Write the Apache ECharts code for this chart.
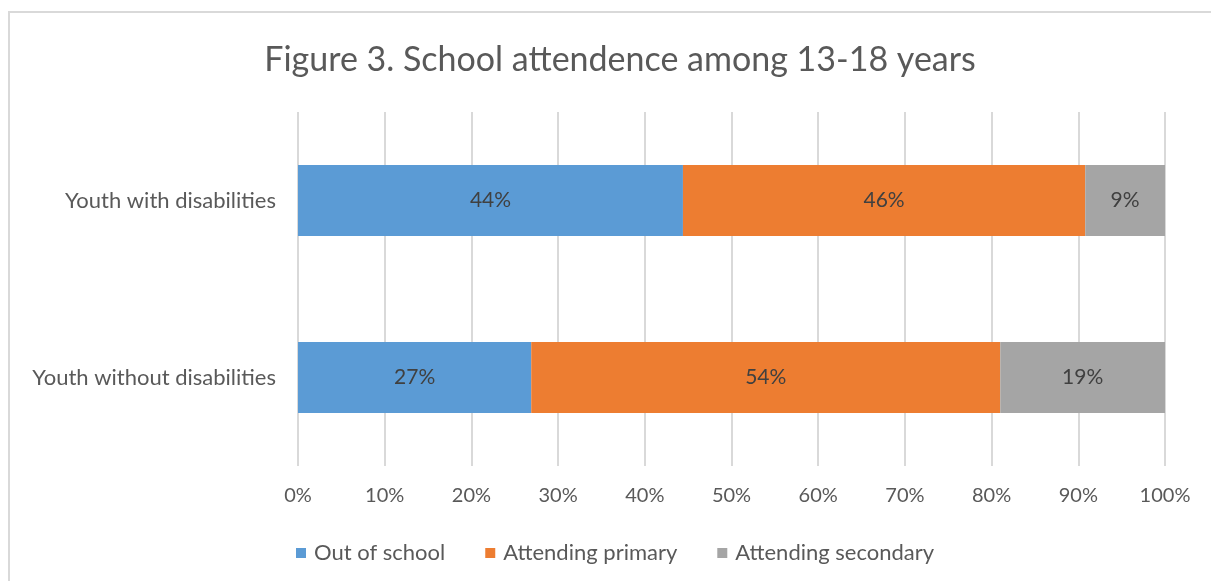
<!DOCTYPE html>
<html>
<head>
<meta charset="utf-8">
<script src="https://cdn.jsdelivr.net/npm/echarts@6/dist/echarts.min.js"></script>
<style>
html,body{margin:0;padding:0;background:#fff;}
#frame{position:absolute;left:8px;top:11px;width:1203px;height:570px;border-left:2px solid #d9d9d9;border-top:2px solid #d9d9d9;box-sizing:border-box;}
#chart{position:absolute;left:0;top:0;width:1211px;height:581px;}
</style>
</head>
<body>
<div id="frame"></div>
<div id="chart"></div>
<script>
var categories = ["Youth with disabilities", "Youth without disabilities"];
var outOfSchool = [44.4, 26.9];
var attendingPrimary = [46.4, 54.1];
var attendingSecondary = [9.2, 19.0];
var seriesNames = ["Out of school", "Attending primary", "Attending secondary"];
var seriesColors = ["#5B9BD5", "#ED7D31", "#A5A5A5"];
var xTicks = [0, 10, 20, 30, 40, 50, 60, 70, 80, 90, 100];

var FONT = "Lato, 'Open Sans', sans-serif";
var chart = echarts.init(document.getElementById('chart'), null, {renderer: 'canvas'});
var dataSets = [outOfSchool, attendingPrimary, attendingSecondary];
var series = dataSets.map(function (d, i) {
  return {
    name: seriesNames[i],
    type: 'bar',
    stack: 'total',
    barCategoryGap: '60%',
    data: d,
    itemStyle: {color: seriesColors[i]},
    label: {
      show: true,
      position: 'inside',
      formatter: function (p) { return Math.round(p.value) + '%'; },
      color: '#404040',
      fontSize: 21,
      fontFamily: FONT
    },
    emphasis: {disabled: true}
  };
});
chart.setOption({
  animation: false,
  backgroundColor: 'transparent',
  title: {
    text: 'Figure 3. School attendence among 13-18 years',
    left: 615,
    textAlign: 'center',
    top: 38,
    textStyle: {color: '#595959', fontSize: 34, fontWeight: 'normal', fontFamily: FONT}
  },
  legend: {
    data: seriesNames,
    left: 291,
    top: 537,
    itemWidth: 10,
    itemHeight: 10,
    itemGap: 40,
    icon: 'rect',
    textStyle: {color: '#595959', fontSize: 22, fontFamily: FONT, padding: [0, 0, 0, 3]},
    itemStyle: {borderWidth: 0}
  },
  grid: {left: 298, right: 46, top: 112, bottom: 115, containLabel: false},
  xAxis: {
    type: 'value',
    min: 0,
    max: 100,
    interval: 10,
    axisLine: {show: false},
    axisTick: {show: false},
    splitLine: {show: true, lineStyle: {color: '#D9D9D9', width: 2}},
    axisLabel: {
      color: '#595959',
      fontSize: 20,
      fontFamily: FONT,
      margin: 20,
      formatter: function (v) { return xTicks.indexOf(v) >= 0 ? v + '%' : ''; }
    }
  },
  yAxis: {
    type: 'category',
    data: categories,
    inverse: true,
    axisLine: {show: false},
    axisTick: {show: false},
    axisLabel: {color: '#595959', fontSize: 22, fontFamily: FONT, margin: 22}
  },
  series: series
});
</script>
</body>
</html>
